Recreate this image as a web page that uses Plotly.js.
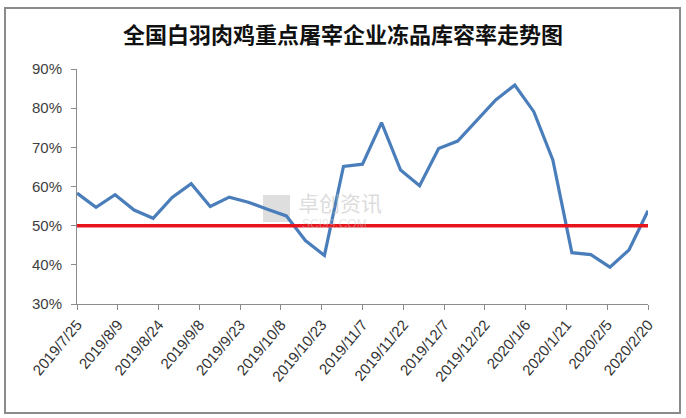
<!DOCTYPE html>
<html>
<head>
<meta charset="utf-8">
<script src="https://cdn.plot.ly/plotly-3.0.1.min.js"></script>
<style>html,body{margin:0;padding:0;background:#fff;}#chart{width:686px;height:418px;}</style>
</head>
<body>
<div id="chart"></div>
<script>
// Weekly dates, 2019/7/25 .. 2020/2/20
const dates = [
  "2019-07-25","2019-08-01","2019-08-08","2019-08-15","2019-08-22","2019-08-29","2019-09-05","2019-09-12",
  "2019-09-19","2019-09-26","2019-10-03","2019-10-10","2019-10-17","2019-10-24","2019-10-31","2019-11-07",
  "2019-11-14","2019-11-21","2019-11-28","2019-12-05","2019-12-12","2019-12-19","2019-12-26","2020-01-02",
  "2020-01-09","2020-01-16","2020-01-23","2020-01-30","2020-02-06","2020-02-13","2020-02-20"
];
const rate = [
  58.3, 54.7, 57.9, 54.0, 51.9, 57.2, 60.7, 54.9,
  57.3, 56.0, 54.2, 52.5, 46.2, 42.4, 65.1, 65.7,
  76.3, 64.2, 60.2, 69.7, 71.6, 77.0, 82.1, 85.9,
  79.1, 66.8, 43.1, 42.6, 39.4, 43.8, 53.8
];
const threshold = [50, 50];
const thresholdDates = ["2019-07-25", "2020-02-20"];
const tickDates = [
  "2019-07-25","2019-08-09","2019-08-24","2019-09-08","2019-09-23","2019-10-08","2019-10-23","2019-11-07",
  "2019-11-22","2019-12-07","2019-12-22","2020-01-06","2020-01-21","2020-02-05","2020-02-20"
];
const tickLabels = [
  "2019/7/25","2019/8/9","2019/8/24","2019/9/8","2019/9/23","2019/10/8","2019/10/23","2019/11/7",
  "2019/11/22","2019/12/7","2019/12/22","2020/1/6","2020/1/21","2020/2/5","2020/2/20"
];
const yTicks = [30, 40, 50, 60, 70, 80, 90];
const yLabels = ["30%","40%","50%","60%","70%","80%","90%"];
const titleText = "全国白羽肉鸡重点屠宰企业冻品库容率走势图";

const traces = [
  {x: dates, y: rate, type: "scatter", mode: "lines",
   line: {color: "#4a7ebb", width: 3.2}, hoverinfo: "skip"},
  {x: thresholdDates, y: threshold, type: "scatter", mode: "lines",
   line: {color: "#e8141b", width: 3.5}, hoverinfo: "skip"}
];

const L = 77, R = 648, T = 69, B = 304;
const W = R - L, H = B - T;
const px = v => (v - L) / W;
const py = v => (B - v) / H;

const layout = {
  width: 686, height: 418,
  margin: {l: L, r: 686 - R, t: T, b: 418 - B},
  paper_bgcolor: "#ffffff", plot_bgcolor: "#ffffff",
  showlegend: false,
  title: {text: "<b>" + titleText + "</b>", x: 0.5, xanchor: "center", y: 0.915, yanchor: "middle",
          font: {family: "Noto Sans CJK SC", size: 22, color: "#111"}},
  xaxis: {
    type: "date", range: ["2019-07-25", "2020-02-20"],
    tickmode: "array", tickvals: tickDates, ticktext: tickLabels,
    tickangle: -50, ticks: "outside", ticklen: 5, tickcolor: "#8c8c8c",
    showline: true, linecolor: "#8c8c8c", linewidth: 1, showgrid: false, zeroline: false,
    tickfont: {family: "Liberation Sans, Arial", size: 15, color: "#333"},
    fixedrange: true
  },
  yaxis: {
    range: [30, 90], tickmode: "array", tickvals: yTicks, ticktext: yLabels,
    ticks: "outside", ticklen: 5, tickcolor: "#8c8c8c",
    showline: true, linecolor: "#8c8c8c", linewidth: 1, showgrid: false, zeroline: false,
    tickfont: {family: "Liberation Sans, Arial", size: 15, color: "#404040"},
    ticklabelstandoff: 6, fixedrange: true
  },
  shapes: [
    {type: "rect", xref: "paper", yref: "paper", x0: px(5), x1: px(680), y0: py(413), y1: py(8),
     line: {color: "#8a8a8a", width: 2}, fillcolor: "rgba(0,0,0,0)", layer: "below"},
    {type: "rect", xref: "paper", yref: "paper", x0: px(263), x1: px(290), y0: py(222), y1: py(195),
     line: {width: 0}, fillcolor: "rgba(200,200,200,0.6)", layer: "below"}
  ],
  annotations: [
    {xref: "paper", yref: "paper", x: px(296), y: py(202), xanchor: "left", yanchor: "middle",
     text: "卓创资讯", showarrow: false,
     font: {family: "Noto Sans CJK SC", size: 21, color: "rgba(190,190,190,0.55)"}},
    {xref: "paper", yref: "paper", x: px(300), y: py(224), xanchor: "left", yanchor: "middle",
     text: "SCI99.COM", showarrow: false,
     font: {family: "Liberation Sans", size: 12, color: "rgba(200,200,200,0.45)"}}
  ]
};

Plotly.newPlot("chart", traces, layout, {staticPlot: true, displayModeBar: false});
</script>
</body>
</html>
